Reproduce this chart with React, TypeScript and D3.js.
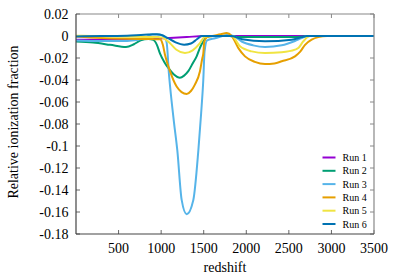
import React from "react";
import * as d3 from "d3";

const xTicks = [500, 1000, 1500, 2000, 2500, 3000, 3500];
const yTicks = [0.02, 0, -0.02, -0.04, -0.06, -0.08, -0.1, -0.12, -0.14, -0.16, -0.18];
const yTickLabels = ["0.02", "0", "-0.02", "-0.04", "-0.06", "-0.08", "-0.1", "-0.12", "-0.14", "-0.16", "-0.18"];

const seriesNames = ["Run 1", "Run 2", "Run 3", "Run 4", "Run 5", "Run 6"];
const seriesColors = ["#9400d3", "#009e73", "#56b4e9", "#e69f00", "#f0e442", "#0072b2"];

const run1: [number, number][] = [[0, -0.0035], [400, -0.0033], [870, -0.0025], [1100, -0.0018], [1300, -0.001], [1500, 0], [3500, 0]];
const run2: [number, number][] = [[0, -0.005], [200, -0.006], [400, -0.008], [587, -0.01], [680, -0.0075], [760, -0.004], [850, -0.0028], [908, -0.0035], [950, -0.008], [987, -0.016], [1040, -0.024], [1084, -0.029], [1150, -0.035], [1221, -0.038], [1270, -0.036], [1319, -0.032], [1370, -0.025], [1417, -0.0185], [1460, -0.01], [1495, -0.005], [1535, -0.001], [1600, 0], [1800, 0], [1900, -0.0008], [2600, -0.0008], [2750, 0], [3500, 0]];
const run3: [number, number][] = [[0, -0.004], [300, -0.0045], [600, -0.0045], [800, -0.002], [900, 0.0015], [1000, 0.001], [1040, -0.001], [1065, -0.006], [1092, -0.035], [1104, -0.045], [1150, -0.078], [1190, -0.104], [1241, -0.149], [1300, -0.162], [1378, -0.149], [1437, -0.104], [1470, -0.07], [1495, -0.04], [1510, -0.014], [1540, -0.004], [1633, -0.002], [1700, -0.0005], [1770, 0.001], [1850, 0], [1946, -0.005], [2080, -0.0085], [2220, -0.01], [2416, -0.0085], [2572, -0.0045], [2651, -0.0018], [2720, 0], [3500, 0]];
const run4: [number, number][] = [[0, -0.0005], [300, -0.0018], [600, -0.0025], [900, -0.0028], [987, -0.003], [1020, -0.008], [1045, -0.017], [1104, -0.032], [1182, -0.046], [1240, -0.051], [1300, -0.0527], [1350, -0.05], [1398, -0.044], [1456, -0.032], [1484, -0.02], [1495, -0.016], [1507, -0.005], [1540, -0.001], [1600, 0], [1700, 0.0015], [1770, 0.0027], [1829, 0], [1907, -0.011], [1985, -0.0185], [2100, -0.0235], [2220, -0.0255], [2330, -0.025], [2416, -0.023], [2572, -0.0185], [2631, -0.0145], [2690, -0.008], [2768, -0.0033], [2846, -0.001], [2950, 0], [3500, 0]];
const run5: [number, number][] = [[0, 0.0003], [400, -0.0005], [800, -0.0008], [967, -0.001], [1050, -0.003], [1104, -0.0065], [1180, -0.0125], [1280, -0.0155], [1370, -0.013], [1456, -0.0065], [1507, -0.001], [1600, 0], [1829, 0], [1926, -0.0094], [2063, -0.014], [2220, -0.0155], [2416, -0.0148], [2572, -0.0124], [2611, -0.011], [2670, -0.0048], [2748, 0], [3500, 0]];
const run6: [number, number][] = [[0, -0.0005], [300, 0], [600, 0.0003], [800, 0.0012], [950, 0.0015], [1020, 0.0005], [1080, -0.002], [1170, -0.0058], [1270, -0.0079], [1350, -0.0068], [1420, -0.003], [1476, 0], [1829, 0], [1950, -0.003], [2220, -0.0048], [2533, -0.0034], [2651, -0.001], [2710, 0], [3500, 0]];

const allRuns = [run1, run2, run3, run4, run5, run6];

const W = 399, H = 279;
const M = { left: 76, right: 374, top: 14, bottom: 234 };
const FONT = "'Liberation Serif', 'DejaVu Serif', 'Times New Roman', serif";

export default function App() {
  const x = d3.scaleLinear().domain([0, 3500]).range([M.left, M.right]);
  const y = d3.scaleLinear().domain([-0.18, 0.02]).range([M.bottom, M.top]);
  const line = d3.line<[number, number]>().x((d) => x(d[0])).y((d) => y(d[1])).curve(d3.curveMonotoneX);
  const tickLen = 4;
  const legendY0 = 157.5;
  const legendDy = 13.3;
  const ts = { fontFamily: FONT };
  return (
    <svg width={W} height={H} style={{ position: "absolute", left: 0, top: 0, background: "#fff" }}>
      <defs>
        <clipPath id="plotclip">
          <rect x={M.left} y={M.top} width={M.right - M.left} height={M.bottom - M.top} />
        </clipPath>
      </defs>
      {xTicks.map((t) => (
        <g key={"xt" + t}>
          <line x1={x(t)} x2={x(t)} y1={M.bottom} y2={M.bottom - tickLen} stroke="#666" strokeWidth={1} />
          <line x1={x(t)} x2={x(t)} y1={M.top} y2={M.top + tickLen} stroke="#888" strokeWidth={1} />
          <text x={x(t)} y={253} textAnchor="middle" fontSize={14} fill="#000" style={ts}>{t}</text>
        </g>
      ))}
      {yTicks.map((t, i) => (
        <g key={"yt" + i}>
          <line x1={M.left} x2={M.left + tickLen} y1={y(t)} y2={y(t)} stroke="#666" strokeWidth={1} />
          <line x1={M.right} x2={M.right - tickLen} y1={y(t)} y2={y(t)} stroke="#888" strokeWidth={1} />
          <text x={68.5} y={y(t) + 4.8} textAnchor="end" fontSize={14} fill="#000" style={ts}>{yTickLabels[i]}</text>
        </g>
      ))}
      <g clipPath="url(#plotclip)">
        {allRuns.map((r, i) => (
          <path key={"s" + i} d={line(r) || ""} fill="none" stroke={seriesColors[i]} strokeWidth={2} strokeLinejoin="round" />
        ))}
      </g>
      <line x1={M.left} x2={M.right} y1={M.top} y2={M.top} stroke="#888" strokeWidth={1.2} />
      <line x1={M.right} x2={M.right} y1={M.top} y2={M.bottom} stroke="#888" strokeWidth={1.2} />
      <line x1={M.left} x2={M.right} y1={M.bottom} y2={M.bottom} stroke="#444" strokeWidth={1.2} />
      <line x1={M.left} x2={M.left} y1={M.top} y2={M.bottom} stroke="#444" strokeWidth={1.2} />
      {seriesNames.map((n, i) => (
        <g key={"lg" + i}>
          <line x1={322.5} x2={335.5} y1={legendY0 + i * legendDy} y2={legendY0 + i * legendDy} stroke={seriesColors[i]} strokeWidth={2} />
          <text x={342.5} y={legendY0 + i * legendDy + 3.5} fontSize={10} fill="#000" style={ts}>{n}</text>
        </g>
      ))}
      <text x={(M.left + M.right) / 2} y={272} textAnchor="middle" fontSize={14} fill="#000" style={ts}>redshift</text>
      <text transform={`translate(18, ${(M.top + M.bottom) / 2 - 2}) rotate(-90)`} textAnchor="middle" fontSize={14} fill="#000" style={ts}>Relative ionization fraction</text>
    </svg>
  );
}
